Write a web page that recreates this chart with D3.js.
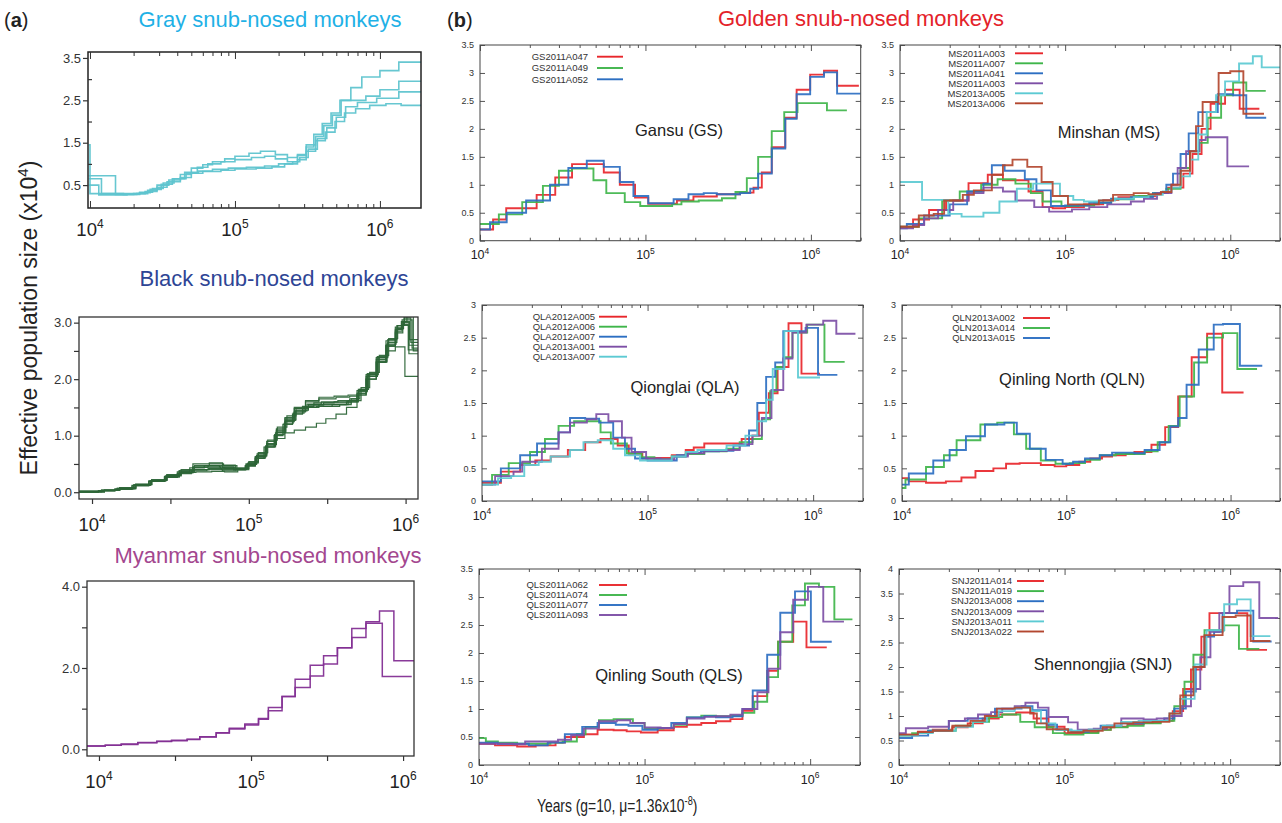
<!DOCTYPE html>
<html><head><meta charset="utf-8">
<script src="https://cdn.jsdelivr.net/npm/d3@7"></script>
<style>
body{margin:0;background:#fff}
svg{display:block}
text{font-family:"Liberation Sans",Arial,Helvetica,sans-serif}
</style>
</head><body>
<svg id="c" width="1282" height="823"></svg>
<script>
// ---------------- DATA (years, Ne x10^4); last entry = end time of final step ----------------
// Gray snub-nosed monkeys
const gray1 = [[9.8e3,0.65],[1.2e4,0.3],[1.7e4,0.28],[2.1e4,0.3],[2.5e4,0.38],[2.9e4,0.5],[3.5e4,0.62],[4.2e4,0.75],[5.0e4,0.9],[6.0e4,0.98],[7.0e4,1.05],[8.5e4,1.12],[1.0e5,1.18],[1.25e5,1.25],[1.5e5,1.3],[1.9e5,1.22],[2.3e5,1.15],[2.7e5,1.22],[3.1e5,1.4],[3.5e5,1.7],[4.0e5,1.95],[4.6e5,2.2],[5.3e5,2.5],[6.3e5,2.8],[7.5e5,3.05],[1.0e6,3.2],[1.35e6,3.4],[1.92e6]];
const gray2 = [[9.8e3,1.45],[1.0e4,0.5],[1.15e4,0.27],[1.8e4,0.28],[2.2e4,0.32],[2.6e4,0.4],[3.1e4,0.52],[3.7e4,0.65],[4.5e4,0.8],[5.5e4,0.92],[6.5e4,1.0],[8.0e4,1.05],[1.0e5,1.1],[1.3e5,1.15],[1.6e5,1.18],[1.9e5,1.12],[2.3e5,1.05],[2.7e5,1.2],[3.1e5,1.45],[3.6e5,1.65],[4.1e5,1.9],[4.7e5,2.15],[5.4e5,2.5],[8.0e5,2.6],[1.0e6,2.75],[1.35e6,2.95],[1.92e6]];
const gray3 = [[9.8e3,0.5],[1.0e4,0.3],[1.8e4,0.3],[2.2e4,0.33],[2.7e4,0.42],[3.2e4,0.55],[3.8e4,0.65],[4.6e4,0.78],[5.6e4,0.83],[7.0e4,0.87],[9.0e4,0.9],[1.2e5,0.92],[1.6e5,0.95],[2.0e5,1.0],[2.5e5,1.05],[2.8e5,1.15],[3.2e5,1.35],[3.7e5,1.6],[4.3e5,1.85],[5.0e5,2.1],[5.8e5,2.35],[7.0e5,2.45],[9.5e5,2.55],[1.35e6,2.7],[1.92e6]];
const gray4 = [[9.8e3,0.72],[1.5e4,0.28],[2.0e4,0.3],[2.4e4,0.35],[2.9e4,0.45],[3.4e4,0.58],[4.2e4,0.68],[5.0e4,0.78],[6.0e4,0.82],[8.0e4,0.85],[1.0e5,0.88],[1.4e5,0.9],[1.8e5,0.93],[2.2e5,1.0],[2.7e5,1.1],[3.1e5,1.3],[3.6e5,1.55],[4.2e5,1.75],[4.9e5,2.0],[5.7e5,2.2],[6.8e5,2.3],[8.5e5,2.38],[1.1e6,2.42],[1.4e6,2.38],[1.92e6]];

// Black snub-nosed monkeys
const black1 = [[8.3e3,0.01],[1.1e4,0.03],[1.4e4,0.06],[1.8e4,0.12],[2.3e4,0.2],[2.9e4,0.28],[3.5e4,0.36],[4.2e4,0.43],[5.2e4,0.47],[6.5e4,0.45],[8.0e4,0.4],[9.5e4,0.46],[1.1e5,0.6],[1.25e5,0.8],[1.45e5,1.0],[1.65e5,1.2],[1.9e5,1.38],[2.2e5,1.52],[2.6e5,1.58],[3.5e5,1.6],[4.3e5,1.62],[4.9e5,1.75],[5.6e5,2.05],[6.5e5,2.35],[7.5e5,2.6],[8.6e5,2.85],[9.5e5,3.0],[1.05e6,2.6],[1.2e6]];
const black2 = [[8.3e3,0.0],[1.2e4,0.03],[1.5e4,0.07],[1.9e4,0.14],[2.4e4,0.22],[3.0e4,0.3],[3.6e4,0.38],[4.4e4,0.5],[5.6e4,0.52],[6.8e4,0.48],[8.2e4,0.42],[9.8e4,0.5],[1.12e5,0.65],[1.3e5,0.85],[1.5e5,1.1],[1.7e5,1.3],[1.95e5,1.48],[2.3e5,1.6],[2.8e5,1.65],[3.6e5,1.68],[4.4e5,1.7],[5.0e5,1.82],[5.7e5,2.1],[6.6e5,2.4],[7.7e5,2.7],[8.8e5,2.95],[9.8e5,3.1],[1.08e6,3.3],[1.2e6]];
const black3 = [[8.3e3,0.02],[1.15e4,0.04],[1.45e4,0.07],[1.85e4,0.13],[2.35e4,0.19],[2.9e4,0.26],[3.5e4,0.33],[4.3e4,0.38],[5.4e4,0.4],[6.8e4,0.38],[8.3e4,0.4],[9.6e4,0.48],[1.1e5,0.62],[1.28e5,0.82],[1.48e5,1.05],[1.7e5,1.25],[1.95e5,1.42],[2.3e5,1.5],[2.8e5,1.55],[3.6e5,1.55],[4.3e5,1.6],[5.0e5,1.78],[5.7e5,2.05],[6.6e5,2.32],[7.6e5,2.62],[8.7e5,2.88],[9.6e5,2.97],[1.04e6,2.52],[1.2e6]];
const black4 = [[8.3e3,0.01],[1.2e4,0.03],[1.5e4,0.06],[1.9e4,0.13],[2.4e4,0.21],[3.0e4,0.3],[3.7e4,0.35],[4.6e4,0.36],[5.8e4,0.37],[7.0e4,0.36],[8.5e4,0.4],[1.0e5,0.52],[1.15e5,0.68],[1.3e5,0.86],[1.5e5,1.08],[1.72e5,1.28],[2.0e5,1.45],[2.4e5,1.55],[3.0e5,1.58],[3.8e5,1.58],[4.5e5,1.65],[5.1e5,1.82],[5.8e5,2.08],[6.7e5,2.38],[7.7e5,2.65],[8.8e5,2.9],[9.7e5,3.02],[1.06e6,2.7],[1.2e6]];
const black5 = [[8.3e3,0.01],[1.15e4,0.03],[1.45e4,0.06],[1.85e4,0.12],[2.35e4,0.2],[2.95e4,0.27],[3.6e4,0.34],[4.4e4,0.4],[5.5e4,0.42],[6.7e4,0.4],[8.2e4,0.41],[9.6e4,0.5],[1.1e5,0.63],[1.28e5,0.8],[1.48e5,0.95],[1.7e5,1.05],[1.95e5,1.1],[2.3e5,1.15],[2.7e5,1.22],[3.1e5,1.3],[3.6e5,1.38],[4.2e5,1.5],[4.9e5,1.72],[5.6e5,2.0],[6.5e5,2.3],[7.5e5,2.58],[8.6e5,2.82],[9.6e5,2.95],[1.05e6,2.45],[1.2e6]];
const black6 = [[8.3e3,0.0],[1.1e4,0.02],[1.4e4,0.05],[1.8e4,0.11],[2.3e4,0.19],[2.9e4,0.27],[3.6e4,0.35],[4.4e4,0.44],[5.5e4,0.47],[6.8e4,0.44],[8.3e4,0.42],[9.7e4,0.49],[1.12e5,0.64],[1.3e5,0.84],[1.5e5,1.06],[1.72e5,1.27],[1.98e5,1.44],[2.35e5,1.56],[2.9e5,1.6],[3.7e5,1.62],[4.4e5,1.65],[5.0e5,1.8],[5.7e5,2.05],[6.6e5,2.3],[7.6e5,2.5],[8.6e5,2.57],[9.9e5,2.05],[1.2e6]];
const black7 = [[8.3e3,0.01],[1.15e4,0.03],[1.5e4,0.07],[1.9e4,0.14],[2.4e4,0.22],[3.0e4,0.31],[3.7e4,0.4],[4.5e4,0.47],[5.6e4,0.5],[6.9e4,0.47],[8.4e4,0.43],[9.9e4,0.52],[1.13e5,0.68],[1.3e5,0.9],[1.5e5,1.12],[1.7e5,1.32],[1.95e5,1.5],[2.3e5,1.62],[2.8e5,1.68],[3.5e5,1.7],[4.3e5,1.72],[4.9e5,1.8],[5.6e5,2.08],[6.5e5,2.38],[7.5e5,2.68],[8.6e5,2.92],[9.5e5,3.05],[1.1e6,2.55],[1.2e6]];
const black8 = [[8.3e3,0.02],[1.2e4,0.04],[1.5e4,0.08],[1.9e4,0.14],[2.4e4,0.21],[3.0e4,0.29],[3.7e4,0.36],[4.5e4,0.4],[5.6e4,0.43],[7.0e4,0.42],[8.5e4,0.42],[1.0e5,0.54],[1.15e5,0.7],[1.32e5,0.92],[1.52e5,1.15],[1.75e5,1.35],[2.0e5,1.48],[2.4e5,1.53],[3.0e5,1.52],[3.8e5,1.55],[4.5e5,1.62],[5.2e5,1.85],[5.9e5,2.12],[6.8e5,2.42],[7.8e5,2.72],[8.9e5,2.95],[9.8e5,3.08],[1.08e6,2.65],[1.2e6]];
const black9 = [[8.3e3,0.01],[1.1e4,0.03],[1.45e4,0.07],[1.85e4,0.13],[2.35e4,0.2],[2.95e4,0.29],[3.6e4,0.38],[4.4e4,0.45],[5.4e4,0.45],[6.6e4,0.42],[8.0e4,0.4],[9.5e4,0.47],[1.1e5,0.6],[1.27e5,0.8],[1.46e5,1.02],[1.68e5,1.22],[1.92e5,1.4],[2.25e5,1.5],[2.7e5,1.52],[3.4e5,1.55],[4.2e5,1.6],[4.9e5,1.72],[5.6e5,2.0],[6.5e5,2.3],[7.5e5,2.6],[8.6e5,2.88],[9.4e5,3.02],[1.02e6,3.15],[1.12e6,2.5],[1.2e6]];

// Myanmar snub-nosed monkeys
const myan1 = [[8.3e3,0.08],[1.1e4,0.1],[1.4e4,0.13],[1.8e4,0.17],[2.4e4,0.2],[3.0e4,0.22],[3.8e4,0.25],[4.6e4,0.31],[5.9e4,0.41],[7.2e4,0.52],[9.1e4,0.62],[1.12e5,0.76],[1.3e5,1.03],[1.6e5,1.3],[1.95e5,1.72],[2.45e5,2.07],[3.0e5,2.3],[3.7e5,2.5],[4.6e5,2.97],[5.7e5,3.14],[7.0e5,3.4],[8.7e5,2.18],[1.19e6]];
const myan2 = [[8.3e3,0.08],[1.1e4,0.1],[1.4e4,0.12],[1.8e4,0.16],[2.4e4,0.19],[3.0e4,0.21],[3.8e4,0.24],[4.6e4,0.3],[5.9e4,0.4],[7.2e4,0.5],[9.1e4,0.6],[1.12e5,0.74],[1.3e5,0.95],[1.6e5,1.3],[1.95e5,1.52],[2.45e5,1.8],[3.0e5,2.1],[3.7e5,2.5],[4.6e5,2.75],[5.7e5,3.1],[7.3e5,1.79],[1.14e6]];

// Golden: Gansu
const gsNames = ["GS2011A047","GS2011A049","GS2011A052"];
const gsA047 = [[1e4,0.2],[1.2e4,0.38],[1.44e4,0.58],[2.2e4,0.82],[2.85e4,1.13],[3.6e4,1.37],[5.6e4,1.22],[7.0e4,1.0],[8.65e4,0.77],[1.04e5,0.66],[1.55e5,0.72],[1.95e5,0.79],[2.7e5,0.83],[3.73e5,0.86],[4.5e5,0.95],[5.05e5,1.22],[5.8e5,1.67],[7.0e5,2.2],[8.2e5,2.7],[9.9e5,2.97],[1.2e6,3.04],[1.44e6,2.77],[1.95e6]];
const gsA049 = [[1e4,0.3],[1.3e4,0.47],[1.8e4,0.69],[2.4e4,0.98],[3.0e4,1.25],[3.6e4,1.29],[4.85e4,1.08],[5.8e4,0.85],[7.5e4,0.69],[9.3e4,0.62],[1.45e5,0.65],[1.65e5,0.7],[2.1e5,0.72],[2.9e5,0.76],[3.5e5,0.87],[4.1e5,1.12],[4.8e5,1.5],[5.8e5,1.96],[6.9e5,2.3],[8.3e5,2.46],[1.25e6,2.33],[1.65e6]];
const gsA052 = [[1e4,0.2],[1.15e4,0.33],[1.45e4,0.5],[1.9e4,0.72],[2.65e4,1.0],[3.42e4,1.3],[4.42e4,1.43],[5.6e4,1.32],[7.0e4,1.05],[8.46e4,0.8],[1.04e5,0.67],[1.48e5,0.74],[1.82e5,0.83],[2.25e5,0.85],[2.7e5,0.83],[3.73e5,0.85],[4.3e5,0.93],[4.8e5,1.2],[5.8e5,1.65],[7.0e5,2.18],[8.2e5,2.62],[9.9e5,2.93],[1.2e6,3.01],[1.44e6,2.63],[2e6]];

// Golden: Minshan
const msNames = ["MS2011A003","MS2011A007","MS2011A041","MS2011A003","MS2013A005","MS2013A006"];
const ms1 = [[1e4,0.25],[1.2e4,0.38],[1.5e4,0.55],[1.9e4,0.72],[2.6e4,1.03],[3.4e4,1.18],[4.2e4,1.08],[6.0e4,0.88],[7.3e4,0.6],[8.4e4,0.58],[1.0e5,0.6],[1.3e5,0.65],[1.7e5,0.73],[2.1e5,0.78],[2.8e5,0.8],[3.5e5,0.85],[4.2e5,0.95],[5.2e5,1.2],[5.9e5,1.55],[6.7e5,2.0],[7.6e5,2.45],[9.3e5,2.7],[1.14e6,2.36],[1.5e6]];
const ms2 = [[1e4,0.25],[1.3e4,0.4],[1.8e4,0.72],[2.3e4,0.88],[3.1e4,1.0],[3.9e4,1.1],[5.0e4,1.02],[6.2e4,0.85],[7.3e4,0.7],[9.5e4,0.62],[1.2e5,0.63],[1.5e5,0.68],[1.9e5,0.74],[2.6e5,0.8],[3.4e5,0.85],[4.1e5,0.93],[5.0e5,1.3],[5.7e5,1.6],[6.5e5,1.75],[7.3e5,2.2],[8.8e5,2.6],[1.04e6,2.83],[1.25e6,2.68],[1.64e6]];
const ms3 = [[1e4,0.22],[1.1e4,0.3],[1.4e4,0.45],[2.0e4,0.65],[2.55e4,0.88],[3.2e4,1.02],[3.6e4,1.35],[4.3e4,1.25],[5.7e4,1.1],[6.7e4,0.9],[8.2e4,0.62],[1.0e5,0.63],[1.4e5,0.68],[1.9e5,0.75],[2.5e5,0.78],[3.4e5,0.85],[4.1e5,1.0],[4.5e5,1.2],[5.0e5,1.55],[5.6e5,1.92],[6.4e5,2.3],[8.4e5,2.62],[1.04e6,2.6],[1.25e6,2.2],[1.65e6]];
const ms4 = [[1e4,0.22],[1.2e4,0.28],[1.4e4,0.4],[1.7e4,0.55],[2.1e4,0.72],[2.6e4,0.85],[3.2e4,0.95],[4.2e4,0.88],[5.0e4,0.72],[6.5e4,0.6],[8.0e4,0.52],[1.1e5,0.56],[1.4e5,0.6],[1.8e5,0.65],[2.5e5,0.7],[3.0e5,0.75],[3.6e5,0.85],[4.4e5,1.0],[4.8e5,1.3],[5.4e5,1.6],[6.5e5,1.8],[7.1e5,1.85],[9.6e5,1.33],[1.3e6]];
const ms5 = [[1e4,1.05],[1.36e4,0.73],[1.96e4,0.48],[2.36e4,0.43],[3.2e4,0.5],[4.0e4,0.7],[5.1e4,0.93],[6.4e4,1.02],[9.3e4,0.8],[1.12e5,0.73],[1.3e5,0.7],[1.6e5,0.72],[2.0e5,0.75],[2.6e5,0.78],[3.2e5,0.82],[3.9e5,0.88],[4.4e5,0.95],[5.0e5,1.15],[5.7e5,1.45],[6.4e5,1.9],[7.2e5,2.3],[8.2e5,2.6],[9.3e5,2.85],[1.13e6,3.17],[1.37e6,3.3],[1.55e6,3.1],[2e6]];
const ms6 = [[1e4,0.25],[1.3e4,0.45],[1.6e4,0.48],[1.85e4,0.72],[2.4e4,0.82],[2.8e4,0.9],[3.6e4,1.18],[4.2e4,1.35],[4.8e4,1.45],[5.9e4,1.32],[7.2e4,1.05],[8.4e4,0.8],[1.04e5,0.65],[1.3e5,0.65],[1.6e5,0.72],[1.95e5,0.82],[2.6e5,0.85],[3.2e5,0.83],[3.8e5,0.87],[4.4e5,1.0],[5.0e5,1.25],[5.7e5,1.6],[6.2e5,2.05],[6.8e5,2.48],[8.5e5,3.0],[1.0e6,3.03],[1.2e6,2.27],[1.6e6]];

// Golden: Qionglai
const qlaNames = ["QLA2012A005","QLA2012A006","QLA2012A007","QLA2013A001","QLA2013A007"];
const qla1 = [[1e4,0.28],[1.3e4,0.45],[1.7e4,0.55],[2.1e4,0.62],[2.6e4,0.68],[3.3e4,0.78],[4.2e4,0.9],[5.2e4,0.95],[6.6e4,0.85],[7.7e4,0.72],[9.3e4,0.65],[1.1e5,0.66],[1.4e5,0.7],[1.7e5,0.78],[1.9e5,0.82],[2.2e5,0.88],[3.0e5,0.88],[3.7e5,0.95],[4.3e5,1.0],[4.7e5,1.35],[5.4e5,1.65],[6.1e5,2.05],[7.1e5,2.72],[8.5e5,1.95],[1.1e6]];
const qla2 = [[1e4,0.25],[1.15e4,0.4],[1.45e4,0.58],[1.95e4,0.75],[2.4e4,0.95],[2.9e4,1.15],[3.6e4,1.22],[5.2e4,1.05],[6.0e4,0.88],[7.5e4,0.73],[9.2e4,0.67],[1.1e5,0.64],[1.4e5,0.68],[1.7e5,0.72],[2.2e5,0.76],[3.0e5,0.8],[3.6e5,0.9],[4.3e5,0.95],[4.9e5,1.25],[5.5e5,1.68],[6.0e5,2.05],[6.7e5,2.2],[7.5e5,2.58],[9.2e5,2.7],[1.17e6,2.13],[1.55e6]];
const qla3 = [[1e4,0.3],[1.3e4,0.5],[1.7e4,0.7],[2.15e4,0.88],[2.9e4,1.05],[3.4e4,1.27],[4.2e4,1.26],[5.1e4,1.2],[6.2e4,0.97],[7.3e4,0.8],[8.4e4,0.65],[1.0e5,0.62],[1.3e5,0.62],[1.5e5,0.7],[1.75e5,0.74],[2.1e5,0.76],[2.7e5,0.77],[3.3e5,0.85],[4.1e5,1.08],[4.6e5,1.5],[5.2e5,1.9],[5.9e5,2.12],[6.6e5,2.6],[9.0e5,2.65],[1.07e6,1.93],[1.4e6]];
const qla4 = [[1e4,0.25],[1.2e4,0.38],[1.55e4,0.45],[1.75e4,0.6],[2.3e4,0.8],[2.9e4,1.05],[3.4e4,1.2],[4.3e4,1.25],[4.9e4,1.33],[5.8e4,1.22],[7.0e4,0.97],[8.0e4,0.75],[9.8e4,0.65],[1.2e5,0.64],[1.45e5,0.68],[1.75e5,0.73],[2.2e5,0.77],[3.0e5,0.78],[3.6e5,0.87],[4.3e5,1.0],[4.9e5,1.27],[5.6e5,1.7],[6.6e5,2.18],[7.5e5,2.58],[9.1e5,2.7],[1.15e6,2.76],[1.38e6,2.56],[1.8e6]];
const qla5 = [[1e4,0.25],[1.25e4,0.35],[1.5e4,0.38],[1.8e4,0.55],[2.2e4,0.6],[2.6e4,0.68],[3.4e4,0.78],[4.1e4,0.9],[5.0e4,0.93],[6.2e4,0.8],[7.3e4,0.7],[9.0e4,0.62],[1.1e5,0.62],[1.4e5,0.68],[1.7e5,0.75],[2.0e5,0.78],[3.0e5,0.85],[3.9e5,1.0],[4.6e5,1.22],[5.2e5,1.55],[5.7e5,2.02],[6.7e5,2.6],[8.1e5,1.89],[1.1e6]];

// Golden: Qinling North
const qlnNames = ["QLN2013A002","QLN2013A014","QLN2013A015"];
const qln1 = [[1e4,0.35],[1.1e4,0.3],[1.4e4,0.28],[1.85e4,0.3],[2.3e4,0.36],[2.8e4,0.46],[3.6e4,0.5],[4.3e4,0.57],[5.2e4,0.58],[7.0e4,0.55],[8.5e4,0.53],[1.0e5,0.55],[1.2e5,0.6],[1.4e5,0.65],[1.65e5,0.68],[1.9e5,0.7],[2.3e5,0.72],[2.6e5,0.75],[3.3e5,0.86],[4.0e5,1.13],[4.8e5,1.6],[5.8e5,2.2],[7.2e5,2.56],[8.9e5,1.66],[1.2e6]];
const qln2 = [[1e4,0.2],[1.05e4,0.33],[1.4e4,0.52],[1.8e4,0.7],[2.15e4,0.93],[3.0e4,1.17],[3.8e4,1.2],[4.8e4,1.02],[5.7e4,0.8],[7.0e4,0.62],[8.6e4,0.57],[1.05e5,0.58],[1.3e5,0.63],[1.6e5,0.7],[2.0e5,0.72],[2.5e5,0.72],[3.0e5,0.76],[3.6e5,0.9],[4.2e5,1.15],[4.9e5,1.6],[6.0e5,2.12],[7.2e5,2.5],[9.0e5,2.57],[1.1e6,2.02],[1.45e6]];
const qln3 = [[1e4,0.25],[1.1e4,0.42],[1.55e4,0.62],[1.95e4,0.78],[2.45e4,0.99],[3.2e4,1.17],[4.2e4,1.2],[5.0e4,1.03],[6.0e4,0.8],[7.5e4,0.63],[9.5e4,0.57],[1.1e5,0.6],[1.3e5,0.65],[1.6e5,0.7],[1.9e5,0.74],[2.6e5,0.73],[3.0e5,0.78],[3.7e5,0.9],[4.3e5,1.14],[4.8e5,1.27],[5.4e5,1.78],[6.4e5,2.32],[7.9e5,2.7],[9.0e5,2.71],[1.14e6,2.07],[1.56e6]];

// Golden: Qinling South
const qlsNames = ["QLS2011A062","QLS2011A074","QLS2011A077","QLS2011A093"];
const qls1 = [[1e4,0.38],[1.25e4,0.35],[1.7e4,0.33],[2.2e4,0.35],[2.9e4,0.4],[3.3e4,0.5],[4.3e4,0.55],[5.2e4,0.63],[6.5e4,0.62],[7.8e4,0.6],[9.5e4,0.58],[1.2e5,0.62],[1.5e5,0.68],[1.8e5,0.72],[2.2e5,0.75],[2.7e5,0.78],[3.3e5,0.82],[3.9e5,0.97],[4.5e5,1.23],[5.5e5,1.68],[6.4e5,2.2],[7.9e5,2.56],[9.5e5,2.1],[1.26e6]];
const qls2 = [[1e4,0.48],[1.1e4,0.42],[1.3e4,0.4],[1.7e4,0.38],[2.7e4,0.4],[3.2e4,0.42],[3.9e4,0.55],[4.4e4,0.68],[5.3e4,0.8],[6.5e4,0.82],[8.5e4,0.75],[1.0e5,0.65],[1.3e5,0.66],[1.5e5,0.72],[1.8e5,0.85],[2.2e5,0.88],[2.7e5,0.87],[3.3e5,0.88],[3.9e5,0.93],[4.6e5,1.13],[5.5e5,1.57],[6.4e5,2.2],[7.8e5,2.85],[9.3e5,3.24],[1.13e6,3.18],[1.4e6,2.6],[1.8e6]];
const qls3 = [[1e4,0.4],[1.3e4,0.38],[2.0e4,0.35],[2.6e4,0.4],[3.3e4,0.55],[4.2e4,0.68],[5.2e4,0.75],[6.7e4,0.72],[8.0e4,0.7],[9.7e4,0.63],[1.2e5,0.66],[1.45e5,0.75],[1.8e5,0.85],[2.3e5,0.87],[2.7e5,0.85],[3.4e5,0.87],[3.9e5,1.0],[4.5e5,1.33],[5.5e5,1.97],[6.6e5,2.72],[8.1e5,3.1],[1.01e6,2.2],[1.35e6]];
const qls4 = [[1e4,0.38],[1.6e4,0.37],[1.9e4,0.42],[2.6e4,0.42],[3.0e4,0.45],[3.6e4,0.53],[4.3e4,0.65],[5.3e4,0.78],[6.8e4,0.8],[8.2e4,0.75],[1.0e5,0.67],[1.25e5,0.66],[1.5e5,0.73],[1.8e5,0.83],[2.3e5,0.86],[2.7e5,0.87],[3.3e5,0.9],[3.9e5,1.0],[4.8e5,1.3],[5.6e5,1.72],[6.6e5,2.37],[7.9e5,2.95],[9.7e5,3.18],[1.2e6,2.56],[1.6e6]];

// Golden: Shennongjia
const snjNames = ["SNJ2011A014","SNJ2011A019","SNJ2013A008","SNJ2013A009","SNJ2013A011","SNJ2013A022"];
const snj1 = [[1e4,0.62],[1.3e4,0.68],[1.6e4,0.72],[2.1e4,0.77],[2.6e4,0.85],[3.2e4,0.95],[4.0e4,1.03],[5.1e4,1.07],[6.5e4,0.95],[8.0e4,0.78],[1.0e5,0.65],[1.3e5,0.67],[1.6e5,0.72],[1.9e5,0.78],[2.4e5,0.83],[3.0e5,0.86],[3.8e5,0.9],[4.5e5,1.1],[5.2e5,1.55],[5.8e5,1.95],[6.7e5,2.62],[7.5e5,3.1],[1.27e6,2.35],[1.67e6]];
const snj2 = [[1e4,0.6],[1.2e4,0.65],[1.5e4,0.7],[2.2e4,0.8],[2.8e4,0.88],[3.5e4,0.98],[4.2e4,1.03],[5.4e4,0.88],[6.6e4,0.77],[8.5e4,0.65],[1.0e5,0.62],[1.3e5,0.65],[1.6e5,0.72],[1.9e5,0.77],[2.4e5,0.8],[3.0e5,0.85],[3.8e5,0.9],[4.6e5,1.2],[5.3e5,1.7],[6.0e5,2.25],[7.0e5,2.75],[9.2e5,2.85],[1.13e6,2.37],[1.5e6]];
const snj3 = [[1e4,0.55],[1.2e4,0.6],[1.5e4,0.7],[2.0e4,0.9],[2.6e4,0.95],[3.4e4,1.0],[3.8e4,1.15],[5.5e4,1.2],[6.4e4,1.12],[7.8e4,0.82],[9.0e4,0.72],[1.1e5,0.68],[1.4e5,0.72],[1.65e5,0.8],[2.2e5,0.85],[3.0e5,0.9],[4.0e5,0.95],[4.6e5,1.15],[5.4e5,1.5],[6.2e5,2.0],[7.0e5,2.62],[8.0e5,2.72],[9.0e5,3.1],[1.1e6,3.15],[1.38e6,2.52],[1.78e6]];
const snj4 = [[1e4,0.65],[1.1e4,0.75],[1.5e4,0.78],[2.0e4,0.9],[2.5e4,0.95],[3.0e4,1.03],[3.6e4,1.08],[4.2e4,1.15],[5.0e4,1.2],[5.8e4,1.27],[6.9e4,1.17],[8.0e4,0.98],[1.05e5,0.87],[1.2e5,0.72],[1.5e5,0.74],[1.8e5,0.8],[2.2e5,0.95],[3.0e5,0.93],[3.6e5,0.95],[4.3e5,1.0],[5.1e5,1.2],[5.8e5,1.55],[6.6e5,2.2],[7.6e5,2.72],[8.6e5,3.1],[9.9e5,3.65],[1.2e6,3.73],[1.5e6,3.0],[1.95e6]];
const snj5 = [[1e4,0.6],[1.3e4,0.65],[1.6e4,0.7],[2.2e4,0.78],[2.8e4,0.88],[3.4e4,1.0],[4.0e4,1.1],[5.0e4,1.17],[6.3e4,1.1],[7.2e4,0.85],[8.8e4,0.72],[1.1e5,0.7],[1.4e5,0.72],[1.7e5,0.8],[2.2e5,0.88],[2.8e5,0.9],[3.6e5,0.9],[4.3e5,1.05],[5.0e5,1.35],[6.1e5,2.05],[7.2e5,2.75],[9.2e5,3.28],[1.1e6,3.38],[1.33e6,2.63],[1.75e6]];
const snj6 = [[1e4,0.62],[1.3e4,0.67],[1.6e4,0.7],[2.1e4,0.8],[2.7e4,0.9],[3.3e4,1.0],[3.9e4,1.15],[5.0e4,1.17],[6.2e4,1.05],[6.8e4,0.85],[7.8e4,0.73],[1.05e5,0.67],[1.3e5,0.7],[1.7e5,0.77],[2.0e5,0.85],[2.6e5,0.87],[3.4e5,0.88],[4.3e5,1.05],[5.0e5,1.42],[6.0e5,2.0],[7.0e5,2.65],[9.0e5,3.02],[1.08e6,3.05],[1.33e6,2.53],[1.75e6]];

// Tick values
const goldXMajor = [1e4, 1e5, 1e6];
const goldXLabels = ["4", "5", "6"];
const yTicks3 = [0, 0.5, 1, 1.5, 2, 2.5, 3];
const yTicks35 = [0, 0.5, 1, 1.5, 2, 2.5, 3, 3.5];
const yTicks4 = [0, 0.5, 1, 1.5, 2, 2.5, 3, 3.5, 4];
const grayYLabeled = [0.5, 1.5, 2.5, 3.5];
const grayYMinor = [1, 2, 3];
const blackYLabeled = [0, 1, 2, 3];
const blackYMinor = [0.5, 1.5, 2.5];
const myanYLabeled = [0, 2, 4];
const myanYMinor = [1, 3];
const halfDecadeTicks = [1e4, 31623, 1e5, 316228, 1e6];

// ---------------- DRAWING ----------------
const svg = d3.select("#c");
const defs = svg.append("defs");
const FONT = '"Liberation Sans",Arial,sans-serif';
const col = {red:"#e8262b", green:"#3fb54a", blue:"#2c6fc2", purple:"#7d4fa6", cyan:"#5ccad3", brown:"#b3472f"};

function stepData(s) {
  const out = s.slice(0, -1).map(d => [d[0], d[1]]);
  out.push([s[s.length - 1][0], s[s.length - 2][1]]);
  return out;
}
let clipN = 0;
function makeClip(x0, x1, y0, y1) {
  const id = "clip" + (clipN++);
  defs.append("clipPath").attr("id", id).append("rect")
    .attr("x", x0).attr("y", y0).attr("width", x1 - x0).attr("height", y1 - y0);
  return "url(#" + id + ")";
}
function powLabel(g, x, y, base, exp, fs, sfs, color, anchor) {
  const t = g.append("text").attr("x", x).attr("y", y)
    .attr("text-anchor", anchor || "middle").attr("font-size", fs).attr("fill", color);
  t.append("tspan").text(base);
  t.append("tspan").attr("dy", -fs * 0.42).attr("font-size", sfs).text(exp);
  return t;
}
function drawAxisTicks(g, axis, tx, ty) {
  const a = g.append("g").attr("transform", `translate(${tx},${ty})`).call(axis);
  a.select(".domain").remove();
  return a;
}

// ---------- Golden panels ----------
function goldPanel(p) {
  const [x0, x1, y0, y1] = p.box;
  const x = d3.scaleLog().domain([1e4, 2e6]).range([x0, x1]);
  const y = d3.scaleLinear().domain([0, p.ymax]).range([y1, y0]);
  const g = svg.append("g");
  const allT = x.ticks();
  const minor = allT.filter(t => !goldXMajor.includes(t));
  const tc = "#555";
  [[d3.axisBottom, y1, -3, minor], [d3.axisBottom, y1, -6, goldXMajor], [d3.axisTop, y0, -3, minor], [d3.axisTop, y0, -6, goldXMajor]]
    .forEach(([f, yy, sz, vals]) => {
      const a = drawAxisTicks(g, f(x).tickValues(vals).tickSize(sz).tickFormat(""), 0, yy);
      a.selectAll("line").attr("stroke", tc);
    });
  const ya = drawAxisTicks(g, d3.axisLeft(y).tickValues(p.yticks).tickSize(-5).tickPadding(6).tickFormat(d => String(d)), x0, 0);
  ya.selectAll("line").attr("stroke", tc);
  ya.selectAll("text").attr("font-size", 9).attr("fill", "#333").attr("font-family", FONT);
  const yr = drawAxisTicks(g, d3.axisRight(y).tickValues(p.yticks).tickSize(-5).tickFormat(""), x1, 0);
  yr.selectAll("line").attr("stroke", tc);
  goldXMajor.forEach((t, i) => powLabel(g, x(t), y1 + 18.5, "10", goldXLabels[i], 12.5, 8.5, "#222"));
  // series
  const line = d3.line().curve(d3.curveStepAfter).x(d => x(d[0])).y(d => y(d[1]));
  const lg = g.append("g").attr("clip-path", makeClip(x0, x1, y0, y1));
  p.series.forEach((s, i) => {
    lg.append("path").attr("d", line(stepData(s))).attr("fill", "none")
      .attr("stroke", p.colors[i]).attr("stroke-width", 1.9).attr("stroke-opacity", 0.92);
  });
  g.append("rect").attr("x", x0).attr("y", y0).attr("width", x1 - x0).attr("height", y1 - y0)
    .attr("fill", "none").attr("stroke", "#444").attr("stroke-width", 1);
  // legend
  const L = p.legend;
  p.names.forEach((n, i) => {
    const yy = y0 + L.y + i * L.dy;
    g.append("text").attr("x", x0 + L.tx).attr("y", yy + 3.2).attr("text-anchor", "end")
      .attr("font-size", 9.5).attr("fill", "#333").text(n);
    g.append("line").attr("x1", x0 + L.l0).attr("x2", x0 + L.l1).attr("y1", yy).attr("y2", yy)
      .attr("stroke", p.colors[i]).attr("stroke-width", 1.9);
  });
  g.append("text").attr("x", p.label[0]).attr("y", p.label[1]).attr("text-anchor", "middle")
    .attr("font-size", 16.5).attr("fill", "#222").text(p.title);
}

const goldPanels = [
  {title:"Gansu (GS)", names:gsNames, series:[gsA047, gsA049, gsA052], colors:[col.red, col.green, col.blue],
   box:[480, 860.7, 45, 240.7], ymax:3.5, yticks:yTicks35, label:[679, 136], legend:{tx:108, l0:117, l1:143, y:11.7, dy:11.3}},
  {title:"Minshan (MS)", names:msNames, series:[ms1, ms2, ms3, ms4, ms5, ms6], colors:[col.red, col.green, col.blue, col.purple, col.cyan, col.brown],
   box:[900, 1280, 45, 240.7], ymax:3.5, yticks:yTicks35, label:[1109, 138], legend:{tx:105, l0:115, l1:143, y:8.3, dy:10}},
  {title:"Qionglai (QLA)", names:qlaNames, series:[qla1, qla2, qla3, qla4, qla5], colors:[col.red, col.green, col.blue, col.purple, col.cyan],
   box:[482, 863, 305, 501], ymax:3, yticks:yTicks3, label:[685, 393], legend:{tx:113, l0:117, l1:145, y:11.7, dy:10}},
  {title:"Qinling North (QLN)", names:qlnNames, series:[qln1, qln2, qln3], colors:[col.red, col.green, col.blue],
   box:[902, 1280, 305, 501], ymax:3, yticks:yTicks3, label:[1072, 385], legend:{tx:113, l0:121, l1:148, y:13, dy:10}},
  {title:"Qinling South (QLS)", names:qlsNames, series:[qls1, qls2, qls3, qls4], colors:[col.red, col.green, col.blue, col.purple],
   box:[479, 860, 569, 765], ymax:3.5, yticks:yTicks35, label:[669, 681], legend:{tx:109, l0:120, l1:148, y:16, dy:10}},
  {title:"Shennongjia (SNJ)", names:snjNames, series:[snj1, snj2, snj3, snj4, snj5, snj6], colors:[col.red, col.green, col.blue, col.purple, col.cyan, col.brown],
   box:[899, 1280, 569, 765], ymax:4, yticks:yTicks4, label:[1103, 670], legend:{tx:113, l0:118, l1:145, y:12, dy:10.1}}
];
goldPanels.forEach(goldPanel);

// ---------- Panel (a) ----------
function aPanel(p) {
  const [x0, x1, y0, y1] = p.box;
  const x = d3.scaleLog().domain(p.xd).range([x0, x1]);
  const y = d3.scaleLinear().domain(p.yd).range([y1, y0]);
  const g = svg.append("g");
  const line = d3.line().curve(d3.curveStepAfter).x(d => x(d[0])).y(d => y(d[1]));
  const lg = g.append("g").attr("clip-path", makeClip(x0, x1, y0, y1));
  p.series.forEach(s => {
    lg.append("path").attr("d", line(stepData(s))).attr("fill", "none")
      .attr("stroke", p.color).attr("stroke-width", p.sw).attr("stroke-opacity", p.op);
  });
  g.append("rect").attr("x", x0).attr("y", y0).attr("width", x1 - x0).attr("height", y1 - y0)
    .attr("fill", "none").attr("stroke", p.frame).attr("stroke-width", p.fw);
  const tc = "#333";
  if (p.logTicks) {
    const all = x.ticks();
    const minor = all.filter(t => !goldXMajor.includes(t));
    [[d3.axisBottom, y1, -4, minor], [d3.axisBottom, y1, -7, goldXMajor], [d3.axisTop, y0, -4, minor], [d3.axisTop, y0, -7, goldXMajor]]
      .forEach(([f, yy, sz, vals]) => {
        drawAxisTicks(g, f(x).tickValues(vals).tickSize(sz).tickFormat(""), 0, yy).selectAll("line").attr("stroke", tc);
      });
  } else {
    drawAxisTicks(g, d3.axisBottom(x).tickValues(halfDecadeTicks).tickSize(5).tickFormat(""), 0, y1)
      .selectAll("line").attr("stroke", tc).attr("stroke-width", 1.2);
  }
  const ya = drawAxisTicks(g, d3.axisLeft(y).tickValues(p.yLab).tickSize(5).tickPadding(2).tickFormat(p.fmt), x0, 0);
  ya.selectAll("line").attr("stroke", tc).attr("stroke-width", 1.2);
  ya.selectAll("text").attr("font-size", 13).attr("fill", "#333").attr("font-family", FONT);
  drawAxisTicks(g, d3.axisLeft(y).tickValues(p.yMin).tickSize(p.minorIn ? -4 : 5).tickFormat(""), x0, 0)
    .selectAll("line").attr("stroke", tc).attr("stroke-width", 1.2);
  goldXMajor.forEach((t, i) => powLabel(g, x(t), p.labY, "10", goldXLabels[i], 18.5, 12, "#222"));
  g.append("text").attr("x", p.title[1]).attr("y", p.title[2]).attr("text-anchor", "middle")
    .attr("font-size", 22).attr("fill", p.tcolor).text(p.title[0]);
}

aPanel({box:[88, 421, 52, 208], xd:[9690, 1.92e6], yd:[-0.04, 3.64], series:[gray1, gray2, gray3, gray4],
  color:"#5fc4cf", sw:1.6, op:0.95, frame:"#222", fw:1.5, logTicks:true, yLab:grayYLabeled, yMin:grayYMinor, minorIn:true,
  fmt:d3.format(".1f"), labY:236, title:["Gray snub-nosed monkeys", 270, 27], tcolor:"#1fb1e6"});
aPanel({box:[79, 418, 317, 499], xd:[8260, 1.2e6], yd:[-0.12, 3.1], series:[black1, black2, black3, black4, black5, black6, black7, black8, black9],
  color:"#2c6537", sw:1.2, op:0.95, frame:"#333", fw:1.3, logTicks:false, yLab:blackYLabeled, yMin:blackYMinor, minorIn:false,
  fmt:d3.format(".1f"), labY:531, title:["Black snub-nosed monkeys", 274, 286], tcolor:"#2e4595"});
aPanel({box:[87, 414, 581, 756], xd:[8340, 1.18e6], yd:[-0.165, 4.14], series:[myan1, myan2],
  color:"#832f93", sw:1.5, op:0.95, frame:"#333", fw:1.3, logTicks:false, yLab:myanYLabeled, yMin:myanYMinor, minorIn:false,
  fmt:d3.format(".1f"), labY:788, title:["Myanmar snub-nosed monkeys", 268, 563], tcolor:"#a3478f"});

// ---------- Headers / global labels ----------
function panelTag(x, y, letter) {
  const t = svg.append("text").attr("x", x).attr("y", y).attr("font-size", 20).attr("fill", "#222");
  t.append("tspan").text("(");
  t.append("tspan").attr("font-weight", "bold").text(letter);
  t.append("tspan").text(")");
}
panelTag(4, 27, "a");
panelTag(447, 27, "b");
svg.append("text").attr("x", 861).attr("y", 26).attr("text-anchor", "middle")
  .attr("font-size", 22).attr("fill", "#e4222a").text("Golden snub-nosed monkeys");

const yl = svg.append("text").attr("transform", "translate(37,318) rotate(-90)")
  .attr("text-anchor", "middle").attr("font-size", 23).attr("fill", "#222");
yl.append("tspan").text("Effective population size (x10");
yl.append("tspan").attr("dy", -9).attr("font-size", 15).text("4");
yl.append("tspan").attr("dy", 9).text(")");

const xg = svg.append("g").attr("transform", "translate(537,812) scale(0.77,1)");
const xl = xg.append("text").attr("x", 0).attr("y", 0).attr("font-size", 18).attr("fill", "#222");
xl.append("tspan").text("Years (g=10, \u03bc=1.36x10");
xl.append("tspan").attr("dy", -7).attr("font-size", 12).text("-8");
xl.append("tspan").attr("dy", 7).text(")");
</script>
</body></html>
